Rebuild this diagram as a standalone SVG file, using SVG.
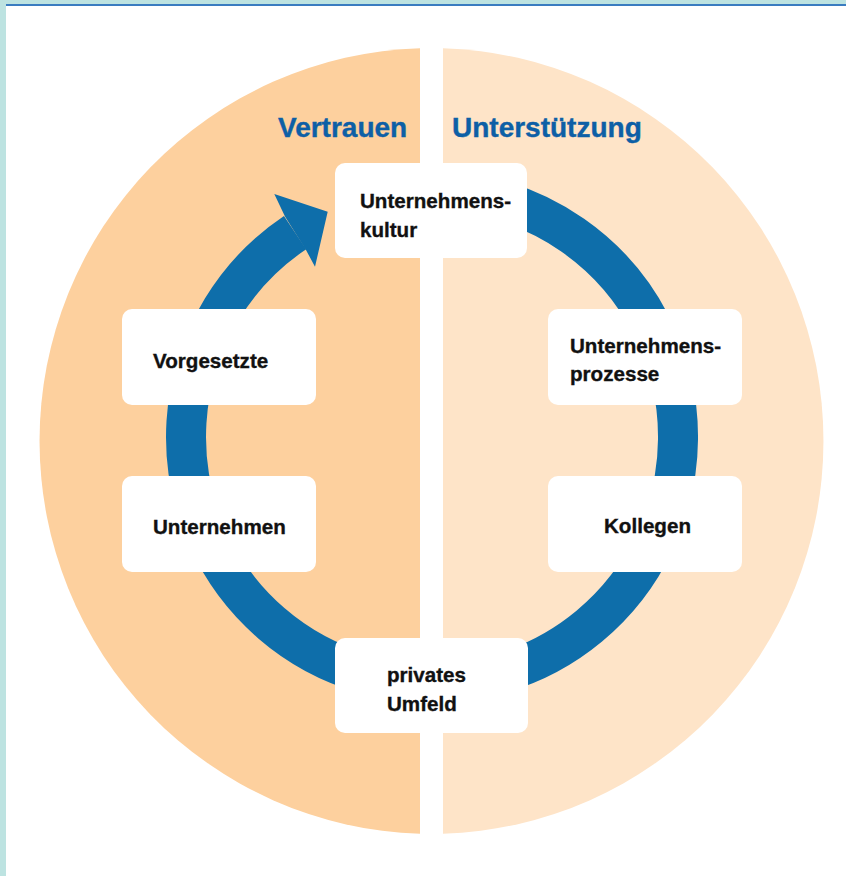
<svg xmlns="http://www.w3.org/2000/svg" width="846" height="876" viewBox="0 0 846 876">
  <style>
    .box { fill: #ffffff; }
    .lbl { font-family: "Liberation Sans", Arial, sans-serif; font-weight: bold; font-size: 20.6px; fill: #111111; stroke: #111111; stroke-width: 0.35px; }
    .title { font-family: "Liberation Sans", Arial, sans-serif; font-weight: bold; font-size: 28px; fill: #0D5FA6; stroke: #0D5FA6; stroke-width: 0.4px; }
  </style>
  <rect x="0" y="0" width="846" height="876" fill="#ffffff"/>
  <!-- frame -->
  <rect x="0" y="0" width="6" height="876" fill="#BDE3E1"/>
  <rect x="0" y="0" width="846" height="4" fill="#BDE3E1"/>
  <rect x="6" y="4" width="840" height="2" fill="#3A7CC0"/>

  <!-- split disc -->
  <path d="M420,48.2 A393,393 0 0 0 420,833.8 Z" fill="#FDD09E"/>
  <path d="M443,48.2 A393,393 0 0 1 443,833.8 Z" fill="#FEE4C8"/>

  <text class="title" x="278" y="137">Vertrauen</text>
  <text class="title" x="452" y="137">Unterstützung</text>

  <!-- cycle arrow -->
  <g id="connectors">
    <path d="M474.7,194.7 A246,246 0 1 1 295.1,232.6" fill="none" stroke="#0E6EAA" stroke-width="40"/>
    <polygon points="274.3,194 327.7,211.7 315,266.7 306,250 285,216.5" fill="#0E6EAA"/>
  </g>

  <g id="kultur">
    <rect class="box" x="335" y="163" width="192" height="95" rx="10"/>
    <text class="lbl" x="360" y="208">Unternehmens-</text>
    <text class="lbl" x="360" y="237">kultur</text>
  </g>
  <g id="vorgesetzte">
    <rect class="box" x="122" y="309" width="194" height="96" rx="10"/>
    <text class="lbl" x="153" y="368">Vorgesetzte</text>
  </g>
  <g id="prozesse">
    <rect class="box" x="548" y="309" width="194" height="96" rx="10"/>
    <text class="lbl" x="570" y="353">Unternehmens-</text>
    <text class="lbl" x="570" y="381">prozesse</text>
  </g>
  <g id="unternehmen">
    <rect class="box" x="122" y="476" width="194" height="96" rx="10"/>
    <text class="lbl" x="153" y="534">Unternehmen</text>
  </g>
  <g id="kollegen">
    <rect class="box" x="548" y="476" width="194" height="96" rx="10"/>
    <text class="lbl" x="604" y="533">Kollegen</text>
  </g>
  <g id="umfeld">
    <rect class="box" x="335" y="638" width="193" height="95" rx="10"/>
    <text class="lbl" x="387" y="682">privates</text>
    <text class="lbl" x="387" y="711">Umfeld</text>
  </g>
</svg>
